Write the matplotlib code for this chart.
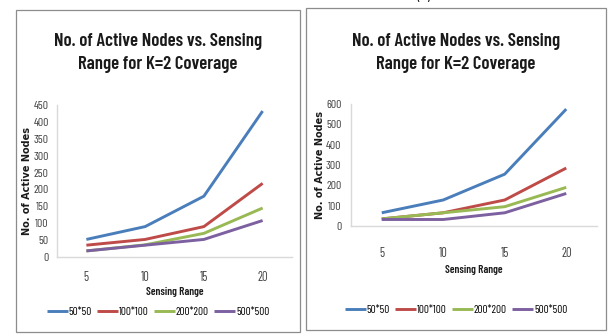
import matplotlib
matplotlib.use("Agg")
import matplotlib.pyplot as plt
from matplotlib.patches import Rectangle

cond = ["Barlow Condensed", "Carlito", "DejaVu Sans"]

categories = ["5", "10", "15", "20"]
series_names = ["50*50", "100*100", "200*200", "500*500"]

# left chart values
left_50 = [52, 90, 180, 432]
left_100 = [35, 52, 90, 218]
left_200 = [18, 36, 70, 145]
left_500 = [18, 35, 52, 108]
left_ticks = [0, 50, 100, 150, 200, 250, 300, 350, 400, 450]

# right chart values
right_50 = [65, 128, 255, 575]
right_100 = [35, 65, 128, 285]
right_200 = [35, 65, 95, 190]
right_500 = [32, 32, 65, 160]
right_ticks = [0, 100, 200, 300, 400, 500, 600]

line_colors = ["#4a7ebb", "#be4b48", "#98b954", "#7d60a0"]

W, H = 608, 334
fig = plt.figure(figsize=(W / 100, H / 100), dpi=100)


def px_rect(x0, y0, x1, y1):
    return [x0 / W, 1 - y1 / H, (x1 - x0) / W, (y1 - y0) / H]


def draw_panel(box, ax_px, series, ticks, title_y, xlabel_y, legend_y, xpad, ypad):
    bx0, by0, bx1, by1 = box
    fig.patches.append(Rectangle((bx0 / W, 1 - by1 / H), (bx1 - bx0) / W, (by1 - by0) / H,
                                 transform=fig.transFigure, fill=False,
                                 edgecolor="#8c8c8c", linewidth=0.9))
    ax = fig.add_axes(px_rect(*ax_px))
    xs = range(len(categories))
    handles = []
    for vals, c, name in zip(series, line_colors, series_names):
        h, = ax.plot(xs, vals, color=c, linewidth=2.1, label=name, solid_capstyle="butt")
        handles.append(h)
    ax.set_xlim(-0.5, len(categories) - 0.5)
    ax.set_ylim(ticks[0], ticks[-1])
    ax.set_xticks(list(xs))
    ax.set_xticklabels(categories, family=cond, fontsize=9, color="#404040")
    ax.set_yticks(ticks)
    ax.set_yticklabels([str(t) for t in ticks], family=cond, fontsize=8.5, color="#404040")
    ax.tick_params(length=0)
    ax.tick_params(axis="y", pad=ypad)
    ax.tick_params(axis="x", pad=xpad)
    for s in ["top", "right"]:
        ax.spines[s].set_visible(False)
    for s in ["left", "bottom"]:
        ax.spines[s].set_color("#d9d9d9")
        ax.spines[s].set_linewidth(1.0)
    ax.set_ylabel("No. of Active Nodes", fontsize=7, fontweight="bold", labelpad=1,
                  family="DejaVu Sans", color="#1a1a1a")
    cx = (bx0 + bx1) / 2 / W
    fig.text(cx, 1 - title_y / H, "No. of Active Nodes vs. Sensing\nRange for K=2 Coverage",
             ha="center", va="center", family=cond, fontweight="semibold",
             fontsize=13.5, linespacing=1.4, color="#1a1a1a")
    axc = (ax_px[0] + ax_px[2]) / 2 / W
    fig.text(axc, 1 - xlabel_y / H, "Sensing Range", ha="center", va="center",
             family=cond, fontweight="semibold", fontsize=8, color="#1a1a1a")
    fig.legend(handles=handles, loc="center", bbox_to_anchor=(cx, 1 - legend_y / H),
               ncol=4, frameon=False, handlelength=1.9, handletextpad=0.05,
               columnspacing=0.5, prop={"family": cond, "size": 8})
    return ax


draw_panel((16, 10, 300, 332), (57, 105, 292, 257),
           [left_50, left_100, left_200, left_500], left_ticks, 53, 292, 312, 10, 6)
draw_panel((306, 8, 606, 330), (351, 104, 597, 226),
           [right_50, right_100, right_200, right_500], right_ticks, 53, 270, 310, 15, 7)

fig.text(424 / W, 1 + 4 / H, "(b)", ha="center", va="center", fontsize=11,
         family=cond, color="#1a1a1a")

fig.savefig("out.png", dpi=100)
